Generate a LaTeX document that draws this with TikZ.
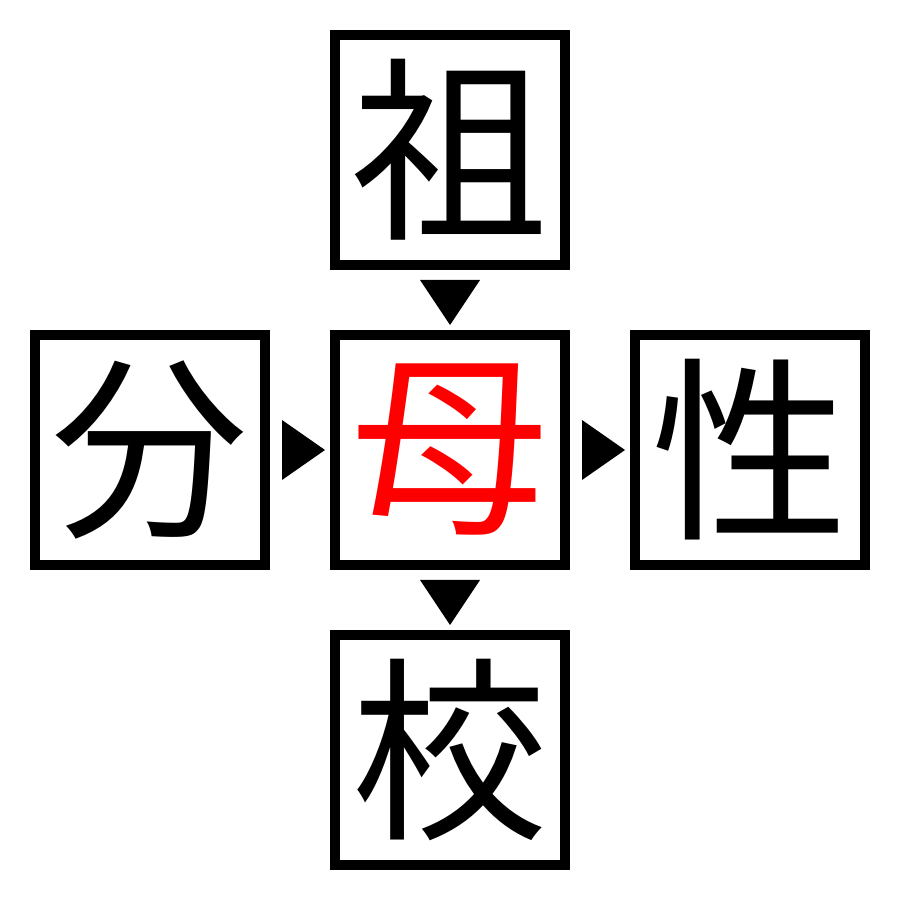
\documentclass[tikz,border=0pt]{standalone}
\usepackage{fontspec}
\newfontfamily\cjk{Noto Sans CJK JP}
\usetikzlibrary{calc}
\newlength{\du}
\setlength{\du}{0.1mm}
\definecolor{kanjired}{rgb}{1.000000, 0.000000, 0.000000}
\begin{document}
\begin{tikzpicture}[
  kanjibox/.style={draw=black, fill=white, line width=10\du, minimum size=230\du,
    inner sep=0pt, font=\cjk\fontsize{56pt}{56pt}\selectfont},
  pointer/.style={fill=black}
]
\useasboundingbox (0\du,0\du) rectangle (900\du,900\du);
% boxes
\node[kanjibox] (top) at (450\du,750\du){祖};
\node[kanjibox] (left) at (150\du,450\du){分};
\node[kanjibox, text=kanjired] (mid) at (450\du,450\du){母};
\node[kanjibox] (right) at (750\du,450\du){性};
\node[kanjibox] (bottom) at (450\du,150\du){校};
% pointers
\fill[pointer] ($(top.south)+(-30\du,-10\du)$)--($(top.south)+(30\du,-10\du)$)--($(top.south)+(0\du,-55\du)$)--cycle;
\fill[pointer] ($(left.east)+(12\du,30\du)$)--($(left.east)+(12\du,-30\du)$)--($(left.east)+(55\du,0\du)$)--cycle;
\fill[pointer] ($(mid.east)+(12\du,30\du)$)--($(mid.east)+(12\du,-30\du)$)--($(mid.east)+(55\du,0\du)$)--cycle;
\fill[pointer] ($(mid.south)+(-30\du,-10\du)$)--($(mid.south)+(30\du,-10\du)$)--($(mid.south)+(0\du,-55\du)$)--cycle;
\end{tikzpicture}
\end{document}
